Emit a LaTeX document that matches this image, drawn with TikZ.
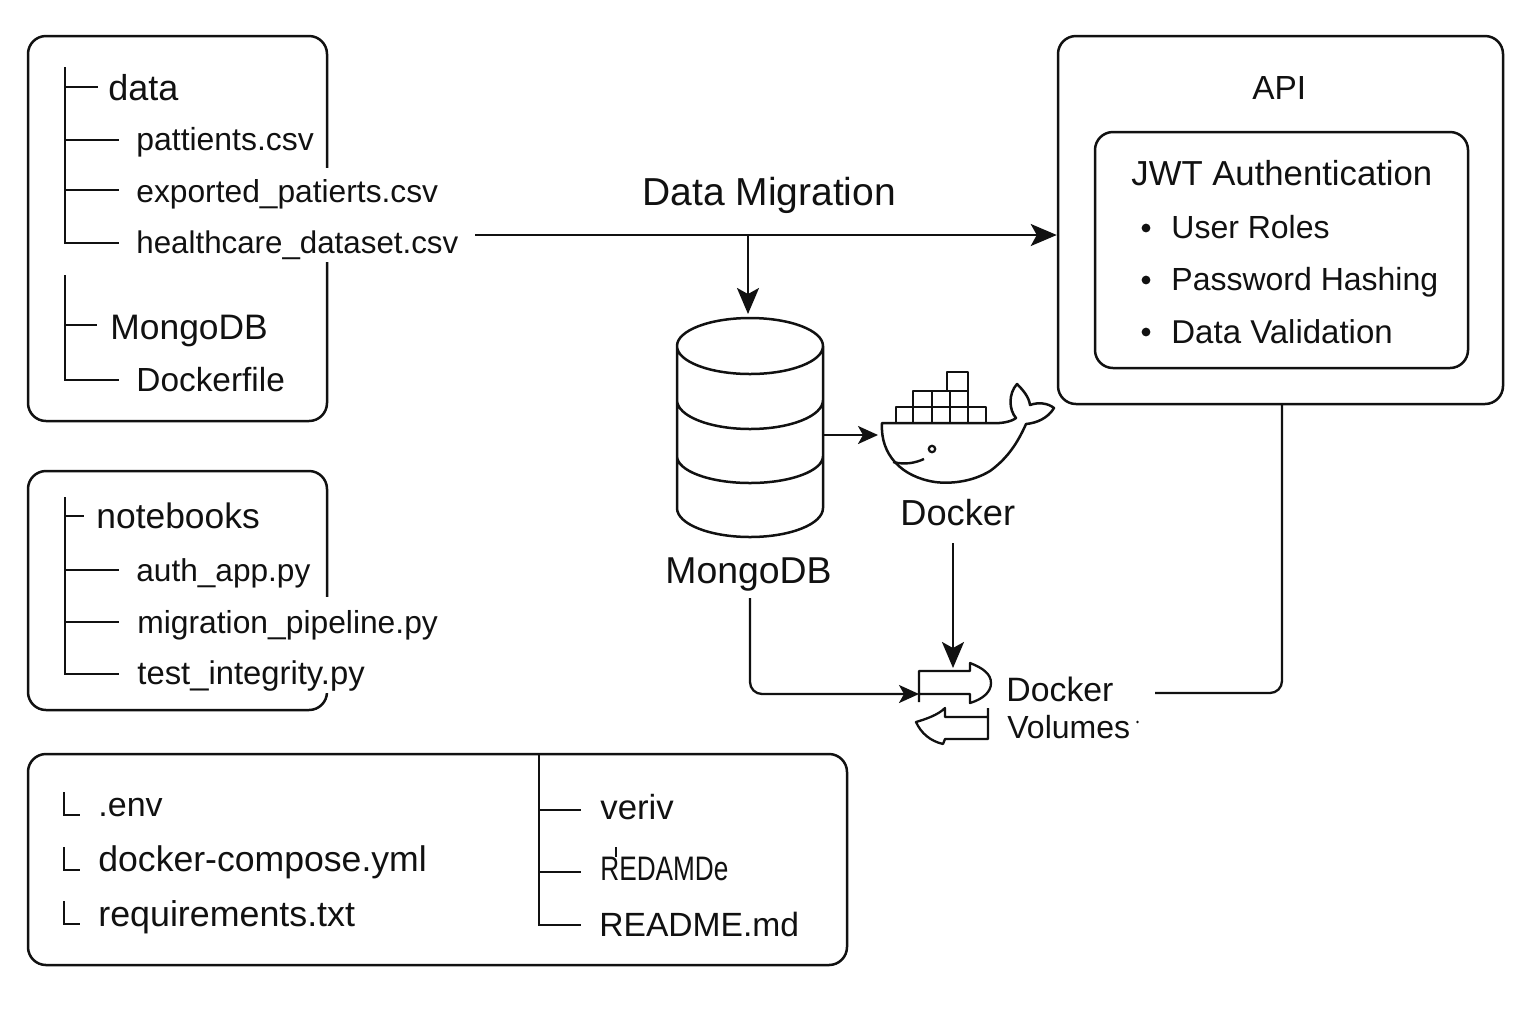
\documentclass[tikz,border=0pt]{standalone}
\usepackage{fontspec}
\setmainfont{Liberation Sans}
\usetikzlibrary{arrows.meta}
\tikzset{
  x=0.5pt,y=-0.5pt,
  box/.style={line width=1.25pt,draw=ink,rounded corners=9pt,inner sep=0pt},
  ghost/.style={inner sep=0pt,outer sep=0pt},
  lbl/.style={anchor=base west,inner sep=0pt,text=ink,font=\fontsize{#1}{20}\selectfont},
  tree/.style={line width=1.2pt,draw=ink},
  bigarrow/.style={line width=1.15pt,draw=ink,-{Stealth[length=13pt,width=11pt,inset=3pt]}},
  smallarrow/.style={line width=1.15pt,draw=ink,-{Stealth[length=10pt,width=9pt,inset=2.5pt]}},
  conn/.style={line width=1.15pt,draw=ink,rounded corners=6pt},
}
\definecolor{ink}{HTML}{111111}
\begin{document}
\begin{tikzpicture}
\useasboundingbox (0,0) rectangle (1536,1024);
\fill[white] (0,0) rectangle (1536,1024);
% boxes
\node[box,minimum width=149.5pt,minimum height=192.5pt] (dataBox) at (177.5,228.5) {};
\node[box,minimum width=149.5pt,minimum height=119.5pt] (nbBox) at (177.5,590.5) {};
\node[box,minimum width=409.5pt,minimum height=105.5pt] (rootBox) at (437.5,859.5) {};
\node[box,minimum width=222.5pt,minimum height=184pt] (api) at (1280.5,220) {};
\node[box,minimum width=186.5pt,minimum height=118pt] (authBox) at (1281.5,250) {};
% gaps in the box edges where long names run across
\fill[white] (320,168) rectangle (335,262);
\fill[white] (320,597) rectangle (335,693);
% data tree
\draw[tree] (65,67) -- (65,243) -- (119,243);
\draw[tree] (65,87) -- (98,87) (65,140) -- (119,140) (65,190) -- (119,190);
\draw[tree] (65,275) -- (65,380) -- (119,380) (65,325) -- (97,325);
\node[lbl=18] (tData) at (108,100) {data};
\node[lbl=15.96] (tPat) at (136,150) {pattients.csv};
\node[lbl=15.87] (tExp) at (136,202) {exported\_patierts.csv};
\node[lbl=15.65] (tHc) at (136,253) {healthcare\_dataset.csv};
\node[lbl=17.7] (tMongo) at (110,339) {MongoDB};
\node[lbl=16.7] (tDf) at (136,391) {Dockerfile};
% notebooks tree
\draw[tree] (65,497) -- (65,674) -- (119,674);
\draw[tree] (65,516) -- (84,516) (65,570) -- (119,570) (65,622) -- (119,622);
\node[lbl=17.7] (tNb) at (96,528) {notebooks};
\node[lbl=15.8] (tAuth) at (136,581) {auth\_app.py};
\node[lbl=15.9] (tMig) at (137,633) {migration\_pipeline.py};
\node[lbl=16.4] (tTest) at (137,684) {test\_integrity.py};
% root files
\draw[tree] (64,792) -- (64,815) -- (80,815) (64,847) -- (64,870) -- (80,870) (64,901) -- (64,924) -- (80,924);
\node[lbl=17] (tEnv) at (98,816) {.env};
\node[lbl=17.8] (tDc) at (98,871) {docker-compose.yml};
\node[lbl=17.9] (tReq) at (98,926) {requirements.txt};
\draw[tree] (539,754) -- (539,925) -- (581,925) (539,810) -- (581,810) (539,872) -- (581,872);
\node[lbl=17.4] (tVenv) at (600,819) {veriv};
\node[lbl=17] (tGarbled) at (600,880) {\scalebox{0.77}[1]{REDAMDe}};
\draw[line width=1pt,draw=ink] (616,847) -- (616,857);
\node[lbl=16.8] (tReadme) at (599,936) {README.md};
% API
\node[lbl=16.7] (tApi) at (1252,99) {API};
\node[lbl=17.35] (tJwt) at (1131,185) {JWT Authentication};
\node[lbl=16] (tRoles) at (1171,238) {User Roles};
\node[lbl=16] (tHash) at (1171,290) {Password Hashing};
\node[lbl=16.5] (tVal) at (1171,343) {Data Validation};
\fill[ink] (1146,228) circle (2.2pt) (1146,280) circle (2.2pt) (1146,332) circle (2.2pt);
% migration
\node[lbl=19.5] (tMigr) at (642,205) {Data Migration};
\coordinate (migStart) at (475,235);
\coordinate (migMid) at (748,235);
% database
\node[ghost,minimum width=73pt,minimum height=110pt] (cyl) at (750,427) {};
\draw[line width=1.25pt,draw=ink]
  (677,346) arc[start angle=180,end angle=0,x radius=73,y radius=-28]
  (677,346) arc[start angle=180,end angle=360,x radius=73,y radius=-28]
  (677,346) -- (677,508)
  (823,346) -- (823,508)
  (677,508) arc[start angle=180,end angle=360,x radius=73,y radius=-29]
  (677,400) arc[start angle=180,end angle=360,x radius=73,y radius=-29]
  (677,456) arc[start angle=180,end angle=360,x radius=73,y radius=-27];
\node[lbl=18.7] (tDb) at (665,583) {MongoDB};
% whale
\node[ghost,minimum width=88pt,minimum height=50pt] (whale) at (966,435) {};
\draw[line width=1.1pt,draw=ink,line join=round]
  (896,423) rectangle (913,407) (913,423) rectangle (932,407) (932,423) rectangle (950,407)
  (950,423) rectangle (968,407) (968,423) rectangle (986,407)
  (913,407) rectangle (932,391) (932,407) rectangle (950,391) (950,407) rectangle (968,391)
  (947,391) rectangle (968,372);
\draw[line width=1.25pt,draw=ink,line join=round]
  (882,423) -- (987,423)
  .. controls (1000,424) and (1011,422) .. (1016,418)
  .. controls (1009,410) and (1008,394) .. (1017,384)
  .. controls (1023,390) and (1029,397) .. (1030,405)
  .. controls (1038,402) and (1048,403) .. (1054,408)
  .. controls (1048,418) and (1037,423) .. (1026,424)
  .. controls (1018,442) and (1008,458) .. (990,471)
  .. controls (972,482) and (950,484) .. (935,482)
  .. controls (902,477) and (880,455) .. (882,423) -- cycle;
\draw[line width=1.1pt,draw=ink] (932,449) circle (1.6pt);
\draw[line width=1.2pt,draw=ink] (893,462) .. controls (905,465) and (915,463) .. (924,459);
\node[lbl=18.1] (tDocker) at (900,525) {Docker};
% volumes
\node[ghost,minimum width=36pt,minimum height=20pt] (volUp) at (955,683) {};
\node[ghost,minimum width=36pt,minimum height=18pt] (volDn) at (952,726) {};
\draw[line width=1.15pt,draw=ink,line join=round]
  (919,702) -- (919,671) -- (970,671) -- (970,663)
  .. controls (983,668) and (991,674) .. (991,683)
  .. controls (991,692) and (983,699) .. (970,703)
  -- (970,694) -- (919,694);
\draw[line width=1.15pt,draw=ink,line join=round]
  (988,708) -- (988,739) -- (945,739) -- (943,744)
  .. controls (930,741) and (921,733) .. (916,722)
  .. controls (926,719) and (938,715) .. (945,708)
  -- (945,717) -- (988,717);
\node[lbl=16.9] (tDv1) at (1006,701) {Docker};
\node[lbl=16] (tDv2) at (1007,738) {Volumes};
\fill[ink] (1137.5,722) circle (0.7pt);
% connectors
\draw[bigarrow] (migStart) -- (api.west |- migStart);
\draw[bigarrow] (migMid) -- ([yshift=1.5pt]migMid |- cyl.north);
\draw[smallarrow] (cyl.east |- whale.west) -- (whale.west);
\coordinate (dockOut) at (953,543);
\coordinate (dockIn) at (953,668);
\draw[bigarrow] (dockOut) -- (dockIn);
\coordinate (volIn) at (919,694);
\coordinate (dbOut) at (750,598);
\draw[conn,-{Stealth[length=10pt,width=9pt,inset=2.5pt]}] (dbOut) |- (volIn);
\coordinate (volOut) at (1155,693);
\coordinate (apiIn) at (1282,405);
\draw[conn] (volOut) -| (apiIn);
\end{tikzpicture}
\end{document}
